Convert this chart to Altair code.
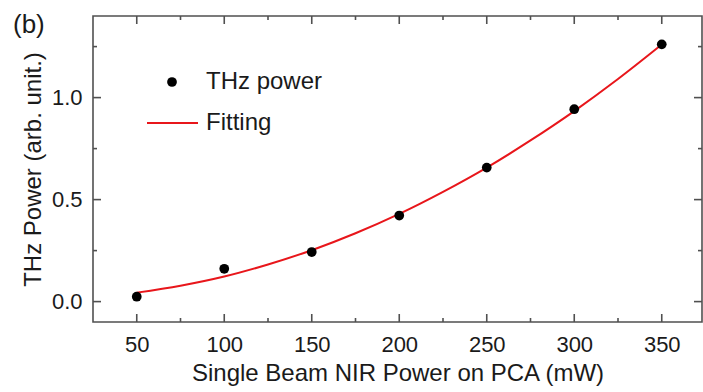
import altair as alt
import pandas as pd

# Measured data (THz power vs NIR power)
nir_power = [50, 100, 150, 200, 250, 300, 350]
thz_power = [0.024, 0.161, 0.243, 0.422, 0.657, 0.943, 1.261]

# Fitting curve at 25 mW steps
fit_x = [50, 75, 100, 125, 150, 175, 200, 225, 250, 275, 300, 325, 350]
fit_y = [0.044, 0.078, 0.123, 0.182, 0.252, 0.335, 0.43, 0.538, 0.657, 0.790, 0.934, 1.091, 1.26]

x_major = [50, 100, 150, 200, 250, 300, 350]
x_minor = [75, 125, 175, 225, 275, 325]
y_major = [0.0, 0.5, 1.0]
y_minor = [0.25, 0.75, 1.25]

X_DOM = [25, 373]
Y_DOM = [-0.1, 1.4]

W, H = 609, 306
FONT = "Liberation Sans"
AX = "#505050"
TXT = "#1a1a1a"

pts = pd.DataFrame({"x": nir_power, "y": thz_power})
fit = pd.DataFrame({"x": fit_x, "y": fit_y})

xs = alt.Scale(domain=X_DOM, nice=False, zero=False)
ys = alt.Scale(domain=Y_DOM, nice=False, zero=False)

# pixel -> data unit conversion for inward tick lengths
px_x = (X_DOM[1] - X_DOM[0]) / W
px_y = (Y_DOM[1] - Y_DOM[0]) / H

rows = []
for vals, L in ((x_major, 8), (x_minor, 4)):
    for v in vals:
        rows.append({"x": v, "x2": v, "y": Y_DOM[0], "y2": Y_DOM[0] + L * px_y})
        rows.append({"x": v, "x2": v, "y": Y_DOM[1], "y2": Y_DOM[1] - L * px_y})
for vals, L in ((y_major, 8), (y_minor, 4)):
    for v in vals:
        rows.append({"x": X_DOM[0], "x2": X_DOM[0] + L * px_x, "y": v, "y2": v})
        rows.append({"x": X_DOM[1], "x2": X_DOM[1] - L * px_x, "y": v, "y2": v})
tick_df = pd.DataFrame(rows)

xaxis = alt.Axis(values=x_major, title="Single Beam NIR Power on PCA (mW)", grid=False,
                 ticks=False, tickSize=0, domain=False, labelPadding=12,
                 labelFontSize=22, titleFontSize=24, labelColor=TXT, titleColor=TXT,
                 labelFont=FONT, titleFont=FONT, titleFontWeight="normal", titlePadding=6)
yaxis = alt.Axis(values=y_major, format=".1f", title="THz Power (arb. unit.)", grid=False,
                 ticks=False, tickSize=0, domain=False, labelPadding=11,
                 labelFontSize=22, titleFontSize=24, labelColor=TXT, titleColor=TXT,
                 labelFont=FONT, titleFont=FONT, titleFontWeight="normal", titlePadding=6)

line = alt.Chart(fit).mark_line(color="#e8161b", strokeWidth=2, interpolate="monotone").encode(
    x=alt.X("x:Q", scale=xs, axis=xaxis),
    y=alt.Y("y:Q", scale=ys, axis=yaxis),
)
dots = alt.Chart(pts).mark_circle(color="black", opacity=1, size=95).encode(
    x=alt.X("x:Q", scale=xs, axis=xaxis), y=alt.Y("y:Q", scale=ys, axis=yaxis)
)
ticks = alt.Chart(tick_df).mark_rule(color=AX, strokeWidth=1.6, opacity=1).encode(
    x=alt.X("x:Q", scale=xs, axis=xaxis), x2="x2:Q",
    y=alt.Y("y:Q", scale=ys, axis=yaxis), y2="y2:Q",
)

leg_df = pd.DataFrame({"a": [0]})
leg_dot = alt.Chart(leg_df).mark_circle(color="black", opacity=1, size=95).encode(
    x=alt.value(79), y=alt.value(66))
leg_t1 = alt.Chart(leg_df).mark_text(text="THz power", align="left", baseline="middle",
                                     fontSize=24, font=FONT, color=TXT).encode(
    x=alt.value(113), y=alt.value(66))
leg_line = alt.Chart(leg_df).mark_rule(color="#e8161b", strokeWidth=1.8).encode(
    x=alt.value(54), x2=alt.value(105), y=alt.value(107))
leg_t2 = alt.Chart(leg_df).mark_text(text="Fitting", align="left", baseline="middle",
                                     fontSize=24, font=FONT, color=TXT).encode(
    x=alt.value(113), y=alt.value(107))
panel = alt.Chart(leg_df).mark_text(text="(b)", align="left", baseline="middle",
                                    fontSize=26, font=FONT, color=TXT).encode(
    x=alt.value(-80), y=alt.value(9))

chart = alt.layer(line, dots, ticks, leg_dot, leg_t1, leg_line, leg_t2, panel).properties(
    width=W, height=H,
    background="white",
    autosize=alt.AutoSizeParams(type="none"),
    padding={"left": 93, "top": 16, "right": 1, "bottom": 70},
).configure_view(stroke=AX, strokeWidth=1.6)

chart.save("out.html", embed_options={"renderer": "svg", "actions": False})
